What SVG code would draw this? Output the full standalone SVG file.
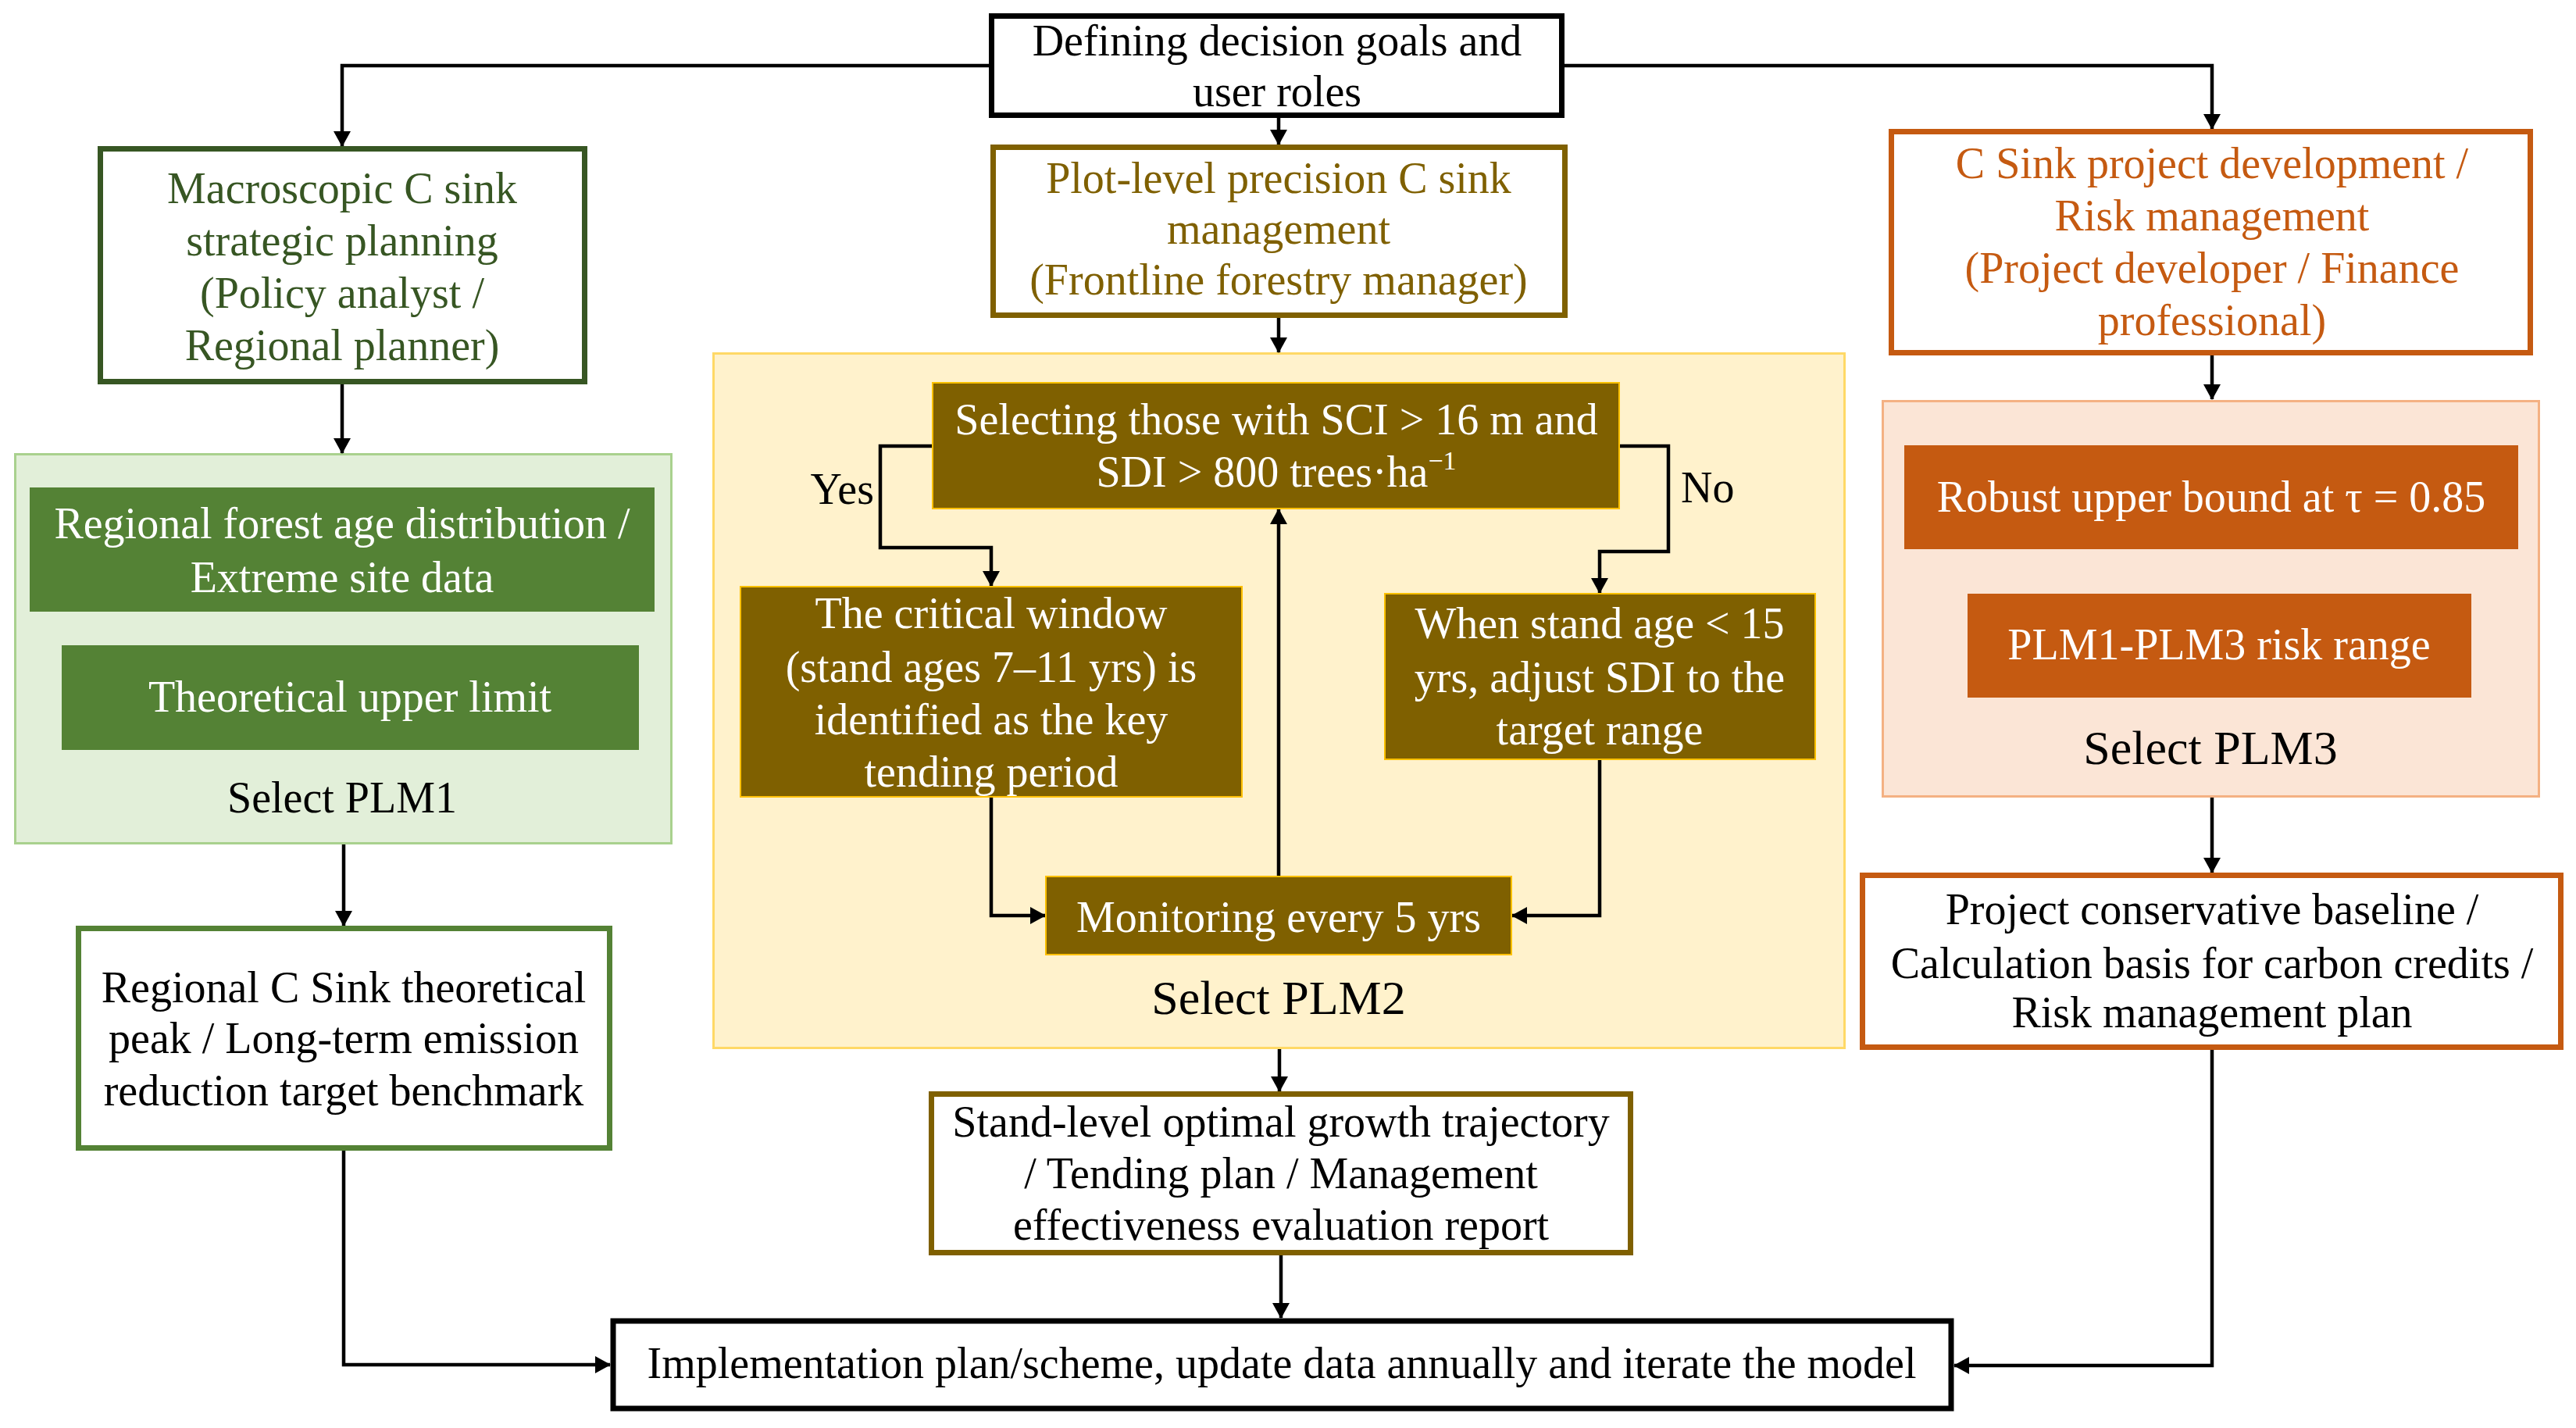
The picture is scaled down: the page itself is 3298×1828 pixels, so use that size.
<svg xmlns="http://www.w3.org/2000/svg" width="3298" height="1828" viewBox="0 0 3298 1828">
<style>
text{font-family:"Liberation Serif","Times New Roman",serif;font-size:56px;text-anchor:middle}
.wt{fill:#ffffff}
.bk{fill:#000000}
.big{font-size:62px}
.box{fill:#ffffff;stroke-width:7}
.conn{fill:none;stroke:#000000;stroke-width:4.5}
</style>
<defs>
<marker id="ah" markerUnits="userSpaceOnUse" markerWidth="20" markerHeight="22" viewBox="0 0 20 22" refX="19" refY="11" orient="auto">
<path d="M0,0 L20,11 L0,22 z" fill="#000000"/>
</marker>
</defs>
<rect width="3298" height="1828" fill="#ffffff"/>

<g id="container-plm1">
<rect x="19.5" y="581.5" width="840" height="498" fill="#e2efd9" stroke="#a9d18e" stroke-width="3"/>
<text x="438" y="1040" class="bk">Select PLM1</text>
</g>
<g id="container-plm2">
<rect x="913.5" y="452.5" width="1448" height="889" fill="#fff2cc" stroke="#ffd966" stroke-width="3"/>
<text x="1637" y="1298" class="bk big">Select PLM2</text>
</g>
<g id="container-plm3">
<rect x="2410.5" y="513.5" width="840" height="506" fill="#fbe5d6" stroke="#f4b183" stroke-width="3"/>
<text x="2830" y="978" class="bk big">Select PLM3</text>
</g>

<g id="connectors">
<path class="conn" d="M1266,84 H438 V187" marker-end="url(#ah)"/>
<path class="conn" d="M2003,84 H2832 V165" marker-end="url(#ah)"/>
<path class="conn" d="M1637,151 V185" marker-end="url(#ah)"/>
<path class="conn" d="M438,492 V580" marker-end="url(#ah)"/>
<path class="conn" d="M440,1081 V1185" marker-end="url(#ah)"/>
<path class="conn" d="M440,1473 V1747 H781" marker-end="url(#ah)"/>
<path class="conn" d="M1637,407 V451" marker-end="url(#ah)"/>
<path class="conn" d="M1638,1343 V1397" marker-end="url(#ah)"/>
<path class="conn" d="M1640,1607 V1687" marker-end="url(#ah)"/>
<path class="conn" d="M2832,455 V511" marker-end="url(#ah)"/>
<path class="conn" d="M2832,1021 V1117" marker-end="url(#ah)"/>
<path class="conn" d="M2832,1344 V1748 H2502" marker-end="url(#ah)"/>
<path class="conn" d="M1193,571 H1127 V701 H1269 V750" marker-end="url(#ah)"/>
<path class="conn" d="M2074,571 H2136 V706 H2048 V759" marker-end="url(#ah)"/>
<path class="conn" d="M1269,1021 V1172 H1338" marker-end="url(#ah)"/>
<path class="conn" d="M2048,973 V1172 H1936" marker-end="url(#ah)"/>
<path class="conn" d="M1637,1121 V652" marker-end="url(#ah)"/>
<text x="1119" y="645" class="bk" style="text-anchor:end">Yes</text>
<text x="2152" y="643" class="bk" style="text-anchor:start">No</text>
</g>

<g id="n-goals">
<rect class="box" x="1269.5" y="20.5" width="730" height="127" stroke="#000000"/>
<text x="1635" y="71" class="bk">Defining decision goals and</text>
<text x="1635" y="136" class="bk">user roles</text>
</g>

<g id="n-macro">
<rect class="box" x="128.5" y="190.5" width="620" height="298" stroke="#375623"/>
<g fill="#375623">
<text x="438" y="260">Macroscopic C sink</text>
<text x="438" y="327">strategic planning</text>
<text x="438" y="394">(Policy analyst /</text>
<text x="438" y="461">Regional planner)</text>
</g>
</g>

<g id="n-plot">
<rect class="box" x="1271.5" y="188.5" width="732" height="215" stroke="#7f6000"/>
<g fill="#7f6000">
<text x="1637" y="247">Plot-level precision C sink</text>
<text x="1637" y="312">management</text>
<text x="1637" y="377">(Frontline forestry manager)</text>
</g>
</g>

<g id="n-project-dev">
<rect class="box" x="2421.5" y="168.5" width="818" height="283" stroke="#c55a11"/>
<g fill="#c55a11">
<text x="2832" y="228">C Sink project development /</text>
<text x="2832" y="295">Risk management</text>
<text x="2832" y="362">(Project developer / Finance</text>
<text x="2832" y="429">professional)</text>
</g>
</g>

<g id="n-regional-data">
<rect x="38" y="624" width="800" height="159" fill="#548235"/>
<text x="438" y="689" class="wt">Regional forest age distribution /</text>
<text x="438" y="758" class="wt">Extreme site data</text>
</g>
<g id="n-theoretical">
<rect x="79" y="826" width="739" height="134" fill="#548235"/>
<text x="448" y="911" class="wt">Theoretical upper limit</text>
</g>

<g id="n-selecting">
<rect x="1194" y="490" width="879" height="161" fill="#7f6000" stroke="#ffc000" stroke-width="2"/>
<text x="1634" y="556" class="wt">Selecting those with SCI &gt; 16 m and</text>
<text x="1634" y="623" class="wt">SDI &gt; 800 trees·ha<tspan font-size="34" dy="-22">−1</tspan></text>
</g>
<g id="n-critical">
<rect x="948" y="751" width="642" height="269" fill="#7f6000" stroke="#ffc000" stroke-width="2"/>
<text x="1269" y="804" class="wt">The critical window</text>
<text x="1269" y="873" class="wt">(stand ages 7–11 yrs) is</text>
<text x="1269" y="940" class="wt">identified as the key</text>
<text x="1269" y="1007" class="wt">tending period</text>
</g>
<g id="n-when">
<rect x="1773" y="760" width="551" height="212" fill="#7f6000" stroke="#ffc000" stroke-width="2"/>
<text x="2048" y="817" class="wt">When stand age &lt; 15</text>
<text x="2048" y="886" class="wt">yrs, adjust SDI to the</text>
<text x="2048" y="953" class="wt">target range</text>
</g>
<g id="n-monitoring">
<rect x="1339" y="1122" width="596" height="100" fill="#7f6000" stroke="#ffc000" stroke-width="2"/>
<text x="1637" y="1193" class="wt">Monitoring every 5 yrs</text>
</g>

<g id="n-robust">
<rect x="2438" y="570" width="786" height="133" fill="#c55a11"/>
<text x="2831" y="655" class="wt">Robust upper bound at τ = 0.85</text>
</g>
<g id="n-risk-range">
<rect x="2519" y="760" width="645" height="133" fill="#c55a11"/>
<text x="2841" y="844" class="wt">PLM1-PLM3 risk range</text>
</g>

<g id="n-regional-peak">
<rect class="box" x="100.5" y="1188.5" width="680" height="281" stroke="#548235"/>
<text x="440" y="1283" class="bk">Regional C Sink theoretical</text>
<text x="440" y="1348" class="bk">peak / Long-term emission</text>
<text x="440" y="1415" class="bk">reduction target benchmark</text>
</g>

<g id="n-stand-level">
<rect class="box" x="1192.5" y="1400.5" width="895" height="203" stroke="#7f6000"/>
<text x="1640" y="1455" class="bk">Stand-level optimal growth trajectory</text>
<text x="1640" y="1521" class="bk">/ Tending plan / Management</text>
<text x="1640" y="1587" class="bk">effectiveness evaluation report</text>
</g>

<g id="n-project-baseline">
<rect class="box" x="2384.5" y="1120.5" width="894" height="220" stroke="#c55a11"/>
<text x="2832" y="1183" class="bk">Project conservative baseline /</text>
<text x="2832" y="1252" class="bk">Calculation basis for carbon credits /</text>
<text x="2832" y="1315" class="bk">Risk management plan</text>
</g>

<g id="n-implementation">
<rect class="box" x="785" y="1691" width="1713" height="112" stroke="#000000" stroke-width="8"/>
<text x="1641" y="1764" class="bk">Implementation plan/scheme, update data annually and iterate the model</text>
</g>
</svg>
